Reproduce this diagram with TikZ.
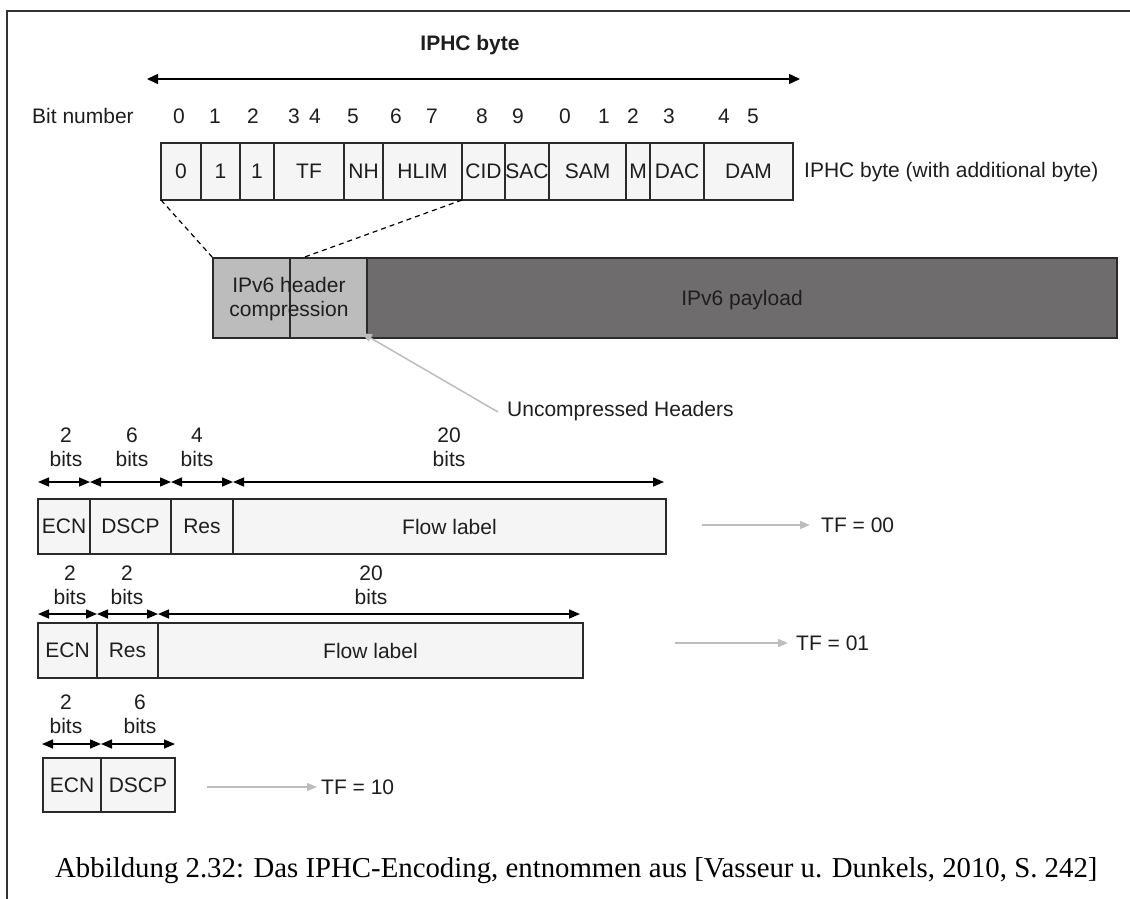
\documentclass[tikz,border=0pt]{standalone}
\usepackage{fontspec}
\setmainfont{Liberation Serif}
\setsansfont{Liberation Sans}
\usetikzlibrary{arrows.meta}

\definecolor{inkc}{HTML}{1E1E1E}
\definecolor{edgec}{HTML}{2A2A2A}
\definecolor{framec}{HTML}{333333}
\definecolor{cellc}{HTML}{F5F5F5}
\definecolor{hdrc}{HTML}{BCBCBC}
\definecolor{payc}{HTML}{6E6C6D}
\definecolor{pointc}{HTML}{BDBDBD}

% one rectangular field: name, left, right, top, bottom, style, text
\newcommand\fieldcell[7]{%
  \pgfmathsetmacro\fcw{#3-#2}%
  \pgfmathsetmacro\fch{#5-#4}%
  \node[fieldbox, #6, minimum width=\fcw pt, minimum height=\fch pt]
    (#1) at ({(#2+#3)/2},{(#4+#5)/2}) {#7};}

\begin{document}
\begin{tikzpicture}[x=1pt, y=-1pt,
  font=\sffamily\fontsize{21}{24}\selectfont, text=inkc,
  fieldbox/.style={draw=edgec, line width=1.4pt, fill=cellc, inner sep=0pt,
                   text depth=0pt, outer sep=0pt},
  lbl/.style={inner sep=0pt, align=center},
  dimarrow/.style={draw=black, line width=1.5pt,
                   {Triangle[length=11pt,width=9pt]}-{Triangle[length=11pt,width=9pt]}},
  pointer/.style={draw=pointc, line width=1.5pt,
                  -{Triangle[length=10pt,width=8pt]}},
  zoomline/.style={draw=black, line width=1.2pt, dash pattern=on 5pt off 4pt}]

\useasboundingbox (0,0) rectangle (1130,899);
\fill[white] (0,0) rectangle (1130,899);

% page frame
\draw[framec, line width=1.8pt] (7,899) -- (7,11) -- (1130,11);

% IPHC byte title and span arrow
\node[lbl, font=\sffamily\bfseries\fontsize{21}{24}\selectfont] (title) at (470,45) {IPHC byte};
\coordinate (spanl) at (147,79);
\coordinate (spanr) at (800,79);
\draw[line width=1.5pt, {Triangle[length=11pt,width=10pt]}-{Triangle[length=11pt,width=10pt]}] (spanl) -- (spanr);

% bit numbers
\node[lbl] (bitnum) at (83,116) {Bit number};
\foreach \bx/\bt [count=\bi] in {179/0,215/1,253/2,294/3,315/4,353/5,396/6,432/7,
                                 482/8,518/9,565/0,604/1,633/2,669/3,724/4,753/5}
  \node[lbl] (bit\bi) at (\bx,116) {\bt};

% IPHC fields
\fieldcell{b0}{161}{201}{143}{200}{}{0}
\fieldcell{b1}{201}{240}{143}{200}{}{1}
\fieldcell{b2}{240}{274}{143}{200}{}{1}
\fieldcell{ftf}{274}{344}{143}{200}{}{TF}
\fieldcell{fnh}{344}{383}{143}{200}{}{NH}
\fieldcell{fhlim}{383}{462}{143}{200}{}{HLIM}
\fieldcell{fcid}{462}{505}{143}{200}{}{CID}
\fieldcell{fsac}{505}{549}{143}{200}{}{SAC}
\fieldcell{fsam}{549}{626}{143}{200}{}{SAM}
\fieldcell{fm}{626}{650}{143}{200}{}{M}
\fieldcell{fdac}{650}{704}{143}{200}{}{DAC}
\fieldcell{fdam}{704}{793}{143}{200}{}{DAM}
\node[lbl, anchor=west] (iphcnote) at (804,172) {IPHC byte (with additional byte)};

% IPv6 packet
\fieldcell{hdra}{213}{290}{258}{338}{fill=hdrc}{}
\fieldcell{hdrb}{290}{367}{258}{338}{fill=hdrc}{}
\fieldcell{payload}{367}{1117}{258}{338}{fill=payc}{IPv6 payload}
\node[lbl, text depth=0pt] (hdrtext) at (289,297) {IPv6 header\\compression};

% zoom lines from the IPHC fields down to the header
\draw[zoomline] (b0.south west) -- (hdra.north west);
\draw[zoomline] (fcid.south west) -- ([xshift=12pt]hdrb.north west);

% uncompressed headers pointer
\node[lbl, anchor=west] (unc) at (507,411) {Uncompressed Headers};
\draw[pointer] ([shift={(-9pt,-1pt)}]unc.west) -- ([shift={(-5pt,5pt)}]hdrb.south east);

% TF = 00
\coordinate (d1) at (0,482);
\fieldcell{r1ecn}{38}{90}{499}{554}{}{ECN}
\fieldcell{r1dscp}{90}{171}{499}{554}{}{DSCP}
\fieldcell{r1res}{171}{233}{499}{554}{}{Res}
\fieldcell{r1flow}{233}{666}{499}{554}{}{Flow label}
\node[lbl] (r1l1) at (66,447) {2\\bits};
\node[lbl] (r1l2) at (132,447) {6\\bits};
\node[lbl] (r1l3) at (197,447) {4\\bits};
\node[lbl] (r1l4) at (449,447) {20\\bits};
\draw[dimarrow] (r1ecn.west |- d1) -- (r1ecn.east |- d1);
\draw[dimarrow] (r1dscp.west |- d1) -- (r1dscp.east |- d1);
\draw[dimarrow] (r1res.west |- d1) -- (r1res.east |- d1);
\draw[dimarrow] (r1flow.west |- d1) -- ([xshift=-2pt]r1flow.east |- d1);
\coordinate (tfs1) at (702,525);
\node[lbl, anchor=west] (tf00) at (821,525) {TF = 00};
\draw[pointer] (tfs1) -- ([xshift=-11pt]tf00.west);

% TF = 01
\coordinate (d2) at (0,614);
\fieldcell{r2ecn}{38}{97}{623}{678}{}{ECN}
\fieldcell{r2res}{97}{158}{623}{678}{}{Res}
\fieldcell{r2flow}{158}{583}{623}{678}{}{Flow label}
\node[lbl] (r2l1) at (70,585) {2\\bits};
\node[lbl] (r2l2) at (127,585) {2\\bits};
\node[lbl] (r2l3) at (371,585) {20\\bits};
\draw[dimarrow] (r2ecn.west |- d2) -- (r2ecn.east |- d2);
\draw[dimarrow] (r2res.west |- d2) -- (r2res.east |- d2);
\draw[dimarrow] (r2flow.west |- d2) -- ([xshift=-3pt]r2flow.east |- d2);
\coordinate (tfs2) at (675,643);
\node[lbl, anchor=west] (tf01) at (796,643) {TF = 01};
\draw[pointer] (tfs2) -- ([xshift=-8pt]tf01.west);

% TF = 10
\coordinate (d3) at (0,744);
\fieldcell{r3ecn}{43}{101}{758}{812}{}{ECN}
\fieldcell{r3dscp}{101}{175}{758}{812}{}{DSCP}
\node[lbl] (r3l1) at (66,714) {2\\bits};
\node[lbl] (r3l2) at (140,714) {6\\bits};
\draw[dimarrow] ([xshift=-1pt]r3ecn.west |- d3) -- (r3ecn.east |- d3);
\draw[dimarrow] (r3dscp.west |- d3) -- (r3dscp.east |- d3);
\coordinate (tfs3) at (207,787);
\node[lbl, anchor=west] (tf10) at (321,787) {TF = 10};
\draw[pointer] (tfs3) -- ([xshift=-4pt]tf10.west);

% caption
\node[inner sep=0pt, anchor=base west, text=black,
      font=\rmfamily\fontsize{28.8}{34}\selectfont] (caption) at (55,877)
  {Abbildung 2.32: Das IPHC-Encoding, entnommen aus [Vasseur u. Dunkels, 2010, S. 242]};
\end{tikzpicture}
\end{document}
